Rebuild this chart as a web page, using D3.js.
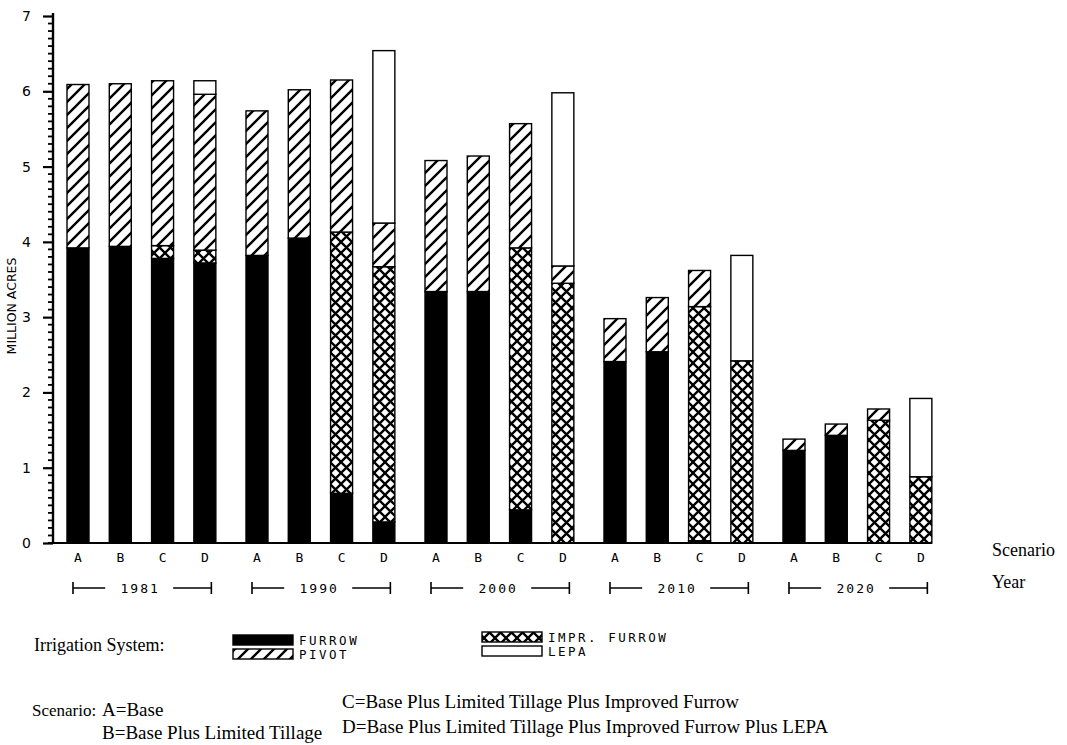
<!DOCTYPE html>
<html>
<head>
<meta charset="utf-8">
<script src="https://cdn.jsdelivr.net/npm/d3@7"></script>
<style>
  body { margin: 0; background: #fff; }
  .plot text { font-family: "DejaVu Sans", sans-serif; fill: #000; }
  .plot text.serif { font-family: "Liberation Serif", serif; }
</style>
</head>
<body>
<div id="chart"></div>
<script>
// categories
const years = ["1981", "1990", "2000", "2010", "2020"];
const scenarios = ["A", "B", "C", "D"];

// million acres, 4 scenarios per year (A,B,C,D)
const furrow     = [3.92, 3.94, 3.78, 3.72,  3.82, 4.05, 0.66, 0.28,  3.34, 3.34, 0.44, 0.00,  2.41, 2.54, 0.03, 0.00,  1.23, 1.43, 0.00, 0.00];
const imprFurrow = [0.00, 0.00, 0.17, 0.17,  0.00, 0.00, 3.47, 3.39,  0.00, 0.00, 3.48, 3.45,  0.00, 0.00, 3.11, 2.42,  0.00, 0.00, 1.63, 0.88];
const pivot      = [2.17, 2.16, 2.19, 2.07,  1.92, 1.97, 2.02, 0.58,  1.74, 1.80, 1.65, 0.23,  0.57, 0.72, 0.48, 0.00,  0.15, 0.15, 0.15, 0.00];
const lepa       = [0.00, 0.00, 0.00, 0.18,  0.00, 0.00, 0.00, 2.29,  0.00, 0.00, 0.00, 2.30,  0.00, 0.00, 0.00, 1.40,  0.00, 0.00, 0.00, 1.04];

const yTicks = [0, 1, 2, 3, 4, 5, 6, 7];
const systemKeys = ["furrow", "imprFurrow", "pivot", "lepa"];
const legendLabels = ["FURROW", "PIVOT", "IMPR. FURROW", "LEPA"];
const scenarioNotes = ["A=Base", "B=Base Plus Limited Tillage",
                       "C=Base Plus Limited Tillage Plus Improved Furrow",
                       "D=Base Plus Limited Tillage Plus Improved Furrow Plus LEPA"];

const width = 1067, height = 745;

const svg = d3.select("#chart").append("svg")
              .attr("width", width)
              .attr("height", height)
              .attr("class", "plot");

// patterns
const defs = svg.append("defs");
const hatch = defs.append("pattern")
                  .attr("id", "hatch")
                  .attr("patternUnits", "userSpaceOnUse")
                  .attr("width", 13).attr("height", 13);
hatch.append("rect").attr("width", 13).attr("height", 13).attr("fill", "#fff");
hatch.append("path")
     .attr("d", "M-2,2 L2,-2 M0,13 L13,0 M11,15 L15,11")
     .attr("stroke", "#000").attr("stroke-width", 2.4);

const cross = defs.append("pattern")
                  .attr("id", "cross")
                  .attr("patternUnits", "userSpaceOnUse")
                  .attr("width", 11).attr("height", 11);
cross.append("rect").attr("width", 11).attr("height", 11).attr("fill", "#fff");
cross.append("path")
     .attr("d", "M0,0 L11,11 M11,0 L0,11")
     .attr("stroke", "#000").attr("stroke-width", 2.3);

const fills = { furrow: "#000", imprFurrow: "url(#cross)", pivot: "url(#hatch)", lepa: "#fff" };

// build table
const rows = [];
years.forEach((yr, i) => {
    scenarios.forEach((sc, j) => {
        const k = i * scenarios.length + j;
        rows.push({ year: yr, scenario: sc,
                    furrow: furrow[k], imprFurrow: imprFurrow[k], pivot: pivot[k], lepa: lepa[k] });
    });
});

const stacked = d3.stack().keys(systemKeys)(rows);

// scales
const y = d3.scaleLinear().domain([0, 7]).range([543, 16]);
const xYear = d3.scaleBand().domain(years).range([56.85, 942]).paddingInner(0.055);
const xScen = d3.scaleBand().domain(scenarios).range([0, xYear.bandwidth()])
                .paddingInner(0.48).paddingOuter(0.24);

// bars
stacked.forEach(layer => {
    svg.append("g")
       .attr("class", "layer-" + layer.key)
       .selectAll("rect")
       .data(layer.filter(d => d[1] - d[0] > 0))
       .join("rect")
       .attr("x", d => xYear(d.data.year) + xScen(d.data.scenario))
       .attr("width", xScen.bandwidth())
       .attr("y", d => y(d[1]))
       .attr("height", d => y(d[0]) - y(d[1]))
       .attr("fill", fills[layer.key])
       .attr("stroke", "#000")
       .attr("stroke-width", 1.4);
});

// y axis
const axisX = 53;
const yAxis = svg.append("g")
   .attr("class", "y-axis")
   .attr("transform", `translate(${axisX},0)`)
   .call(d3.axisLeft(y).tickValues(yTicks).tickFormat(d3.format("d"))
           .tickSize(10).tickPadding(12).tickSizeOuter(0));
yAxis.select(".domain")
     .attr("stroke", "#000")
     .attr("stroke-width", 2.4)
     .attr("d", `M0,${y(0)}V${y(7) - 3}`);
yAxis.selectAll(".tick line").attr("stroke", "#000").attr("stroke-width", 2.2);
yAxis.selectAll("text").style("font-size", "14px");

// minor ticks every 0.1
const minor = d3.range(1, 70).filter(v => v % 10 !== 0).map(v => v / 10);
svg.append("g")
   .attr("class", "y-minor")
   .selectAll("line")
   .data(minor)
   .join("line")
   .attr("x1", axisX - 5)
   .attr("x2", axisX)
   .attr("y1", d => y(d))
   .attr("y2", d => y(d))
   .attr("stroke", "#000")
   .attr("stroke-width", 1.8);

svg.append("text")
   .attr("transform", "translate(11,306) rotate(-90)")
   .attr("text-anchor", "middle")
   .attr("dy", "0.36em")
   .style("font-size", "12.5px")
   .text("MILLION ACRES");

// baseline
svg.append("line")
   .attr("x1", 48).attr("x2", 932)
   .attr("y1", y(0)).attr("y2", y(0))
   .attr("stroke", "#000").attr("stroke-width", 2);

// scenario letters per year
years.forEach(yr => {
    const g = svg.append("g")
       .attr("transform", `translate(${xYear(yr)},${y(0)})`)
       .call(d3.axisBottom(xScen).tickSize(0).tickPadding(10));
    g.select(".domain").remove();
    g.selectAll("text")
     .style("font-family", "DejaVu Sans Mono, monospace")
     .style("font-size", "13px");
});

// year brackets
const yearRow = 588;
years.forEach(yr => {
    const x1 = xYear(yr) + xScen("A") + xScen.bandwidth() / 2 - 5;
    const x2 = xYear(yr) + xScen("D") + xScen.bandwidth() / 2 + 6.5;
    const cx = (x1 + x2) / 2;
    const g = svg.append("g").attr("stroke", "#000").attr("stroke-width", 1.6);
    g.append("line").attr("x1", x1).attr("x2", cx - 37).attr("y1", yearRow).attr("y2", yearRow);
    g.append("line").attr("x1", cx + 31).attr("x2", x2).attr("y1", yearRow).attr("y2", yearRow);
    g.append("line").attr("x1", x1).attr("x2", x1).attr("y1", yearRow - 6).attr("y2", yearRow + 6);
    g.append("line").attr("x1", x2).attr("x2", x2).attr("y1", yearRow - 6).attr("y2", yearRow + 6);
    svg.append("text")
       .attr("x", cx - 2)
       .attr("y", yearRow)
       .attr("dy", "0.36em")
       .attr("text-anchor", "middle")
       .style("font-family", "DejaVu Sans Mono, monospace")
       .style("font-size", "13px")
       .style("letter-spacing", "2px")
       .text(yr);
});

svg.append("text").attr("class", "serif").attr("x", 992).attr("y", 556)
   .style("font-size", "18px").text("Scenario");
svg.append("text").attr("class", "serif").attr("x", 992).attr("y", 588)
   .style("font-size", "18px").text("Year");

// legend
svg.append("text").attr("class", "serif").attr("x", 34).attr("y", 651)
   .style("font-size", "18px").text("Irrigation System:");

const legendPos = [
    { key: "furrow", x: 233, y: 635 },
    { key: "pivot", x: 233, y: 649 },
    { key: "imprFurrow", x: 482, y: 632 },
    { key: "lepa", x: 482, y: 646 }
];
const legendOrder = ["furrow", "pivot", "imprFurrow", "lepa"];
legendPos.forEach(p => {
    const i = legendOrder.indexOf(p.key);
    svg.append("rect")
       .attr("x", p.x).attr("y", p.y)
       .attr("width", 60).attr("height", 10)
       .attr("fill", fills[p.key])
       .attr("stroke", "#000").attr("stroke-width", 1.4);
    svg.append("text")
       .attr("x", p.x + 66).attr("y", p.y + 5)
       .attr("dy", "0.36em")
       .style("font-family", "DejaVu Sans Mono, monospace")
       .style("font-size", "12.5px")
       .style("letter-spacing", "2.5px")
       .text(legendLabels[i]);
});

// scenario notes
const noteSize = "19px";
svg.append("text").attr("class", "serif").attr("x", 32).attr("y", 716)
   .style("font-size", "17px").text("Scenario:");
svg.append("text").attr("class", "serif").attr("x", 102).attr("y", 716)
   .style("font-size", noteSize).text(scenarioNotes[0]);
svg.append("text").attr("class", "serif").attr("x", 102).attr("y", 739)
   .style("font-size", noteSize).text(scenarioNotes[1]);
svg.append("text").attr("class", "serif").attr("x", 342).attr("y", 708)
   .style("font-size", noteSize).text(scenarioNotes[2]);
svg.append("text").attr("class", "serif").attr("x", 342).attr("y", 733)
   .style("font-size", noteSize).text(scenarioNotes[3]);
</script>
</body>
</html>
